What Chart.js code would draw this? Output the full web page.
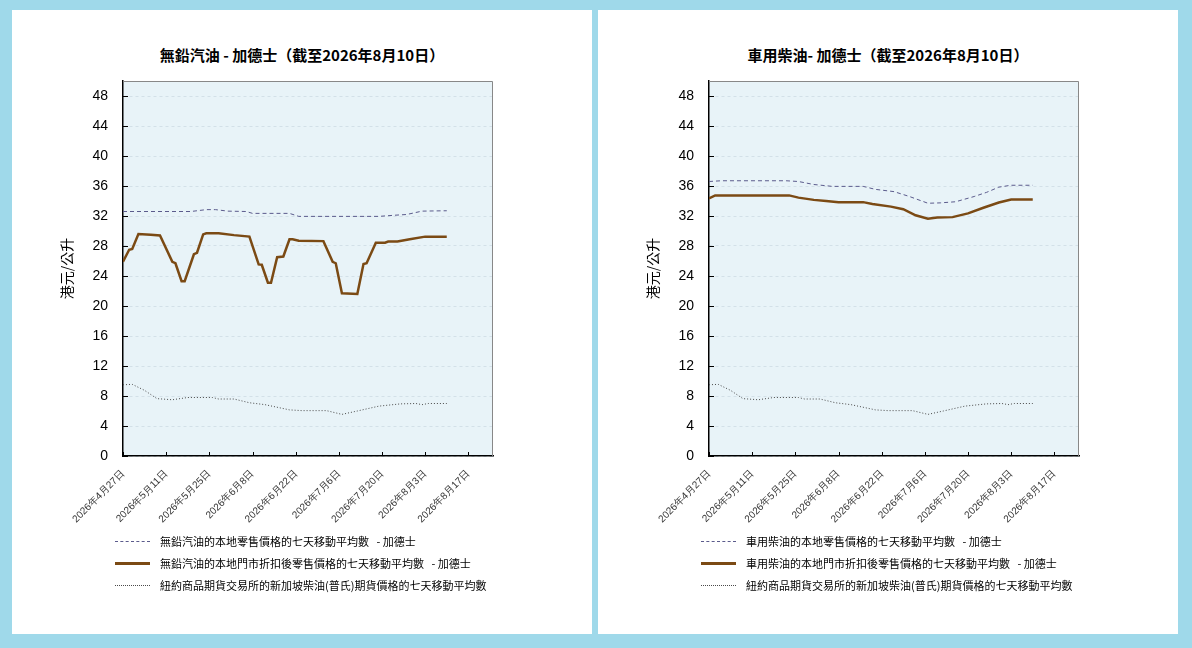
<!DOCTYPE html>
<html>
<head>
<meta charset="utf-8">
<script src="https://cdn.jsdelivr.net/npm/chart.js@4.4.1/dist/chart.umd.min.js"></script>
<style>
  html, body { margin: 0; padding: 0; }
  body { width: 1192px; height: 648px; background: #9fd9ea; position: relative; overflow: hidden;
         font-family: "Noto Sans CJK TC", "Noto Sans", sans-serif; }
  .panel { position: absolute; top: 10px; width: 580px; height: 624px; background: #fff; }
  .panel canvas { position: absolute; left: 0; top: 0; }
  .ttl { position: absolute; left: 0; width: 580px; top: 34px; line-height: 22px; text-align: center;
         font-size: 15px; font-weight: bold; color: #000; }
  .legend { position: absolute; left: 103px; top: 520px; font-size: 11px; color: #000; }
  .legend .row { height: 22px; display: flex; align-items: center; }
  .legend .sample { width: 35px; margin-right: 10px; }
</style>
</head>
<body>
<div class="panel" style="left:12px">
  <div class="ttl">無鉛汽油 - 加德士（截至2026年8月10日）</div>
  <canvas id="chartPetrol" width="580" height="530"></canvas>
  <div class="legend" id="legendPetrol"></div>
</div>
<div class="panel" style="left:598px">
  <div class="ttl">車用柴油- 加德士（截至2026年8月10日）</div>
  <canvas id="chartDiesel" width="580" height="530"></canvas>
  <div class="legend" id="legendDiesel"></div>
</div>
<script>
// x values are days counted from 2026-04-27
const xTickLabels = ['2026年4月27日', '2026年5月11日', '2026年5月25日', '2026年6月8日', '2026年6月22日',
  '2026年7月6日', '2026年7月20日', '2026年8月3日', '2026年8月17日'];

// unleaded petrol - retail price, 7 day moving average
const petrolRetailDays = [0, 22, 27, 30, 34, 40, 42, 54, 57, 83, 88, 92, 97, 105];
const petrolRetailVals = [32.6, 32.6, 32.85, 32.85, 32.65, 32.6, 32.35, 32.35, 31.95, 31.95, 32.1, 32.2, 32.65, 32.7];

// unleaded petrol - discounted retail price, 7 day moving average
const petrolDiscountDays = [0, 2, 3, 5, 9, 12, 16, 17, 19, 20, 23, 24, 26, 27, 31, 36, 41, 44, 45, 47, 48, 50, 52, 54,
  55, 57, 65, 68, 69, 71, 76, 78, 79, 82, 85, 86, 89, 93, 98, 105];
const petrolDiscountVals = [25.9, 27.5, 27.6, 29.6, 29.5, 29.4, 25.9, 25.7, 23.3, 23.3, 26.9, 27.1, 29.55, 29.7, 29.7,
  29.45, 29.25, 25.55, 25.5, 23.1, 23.1, 26.5, 26.6, 28.9, 28.9, 28.7, 28.65, 25.9, 25.7, 21.7, 21.6, 25.6, 25.7,
  28.45, 28.45, 28.6, 28.6, 28.9, 29.25, 29.25];

// diesel - retail price, 7 day moving average
const dieselRetailDays = [0, 4, 25, 29, 34, 40, 50, 54, 60, 65, 71, 75, 80, 86, 90, 94, 98, 105];
const dieselRetailVals = [36.6, 36.7, 36.7, 36.6, 36.2, 35.95, 35.95, 35.55, 35.25, 34.6, 33.7, 33.75, 33.9, 34.6,
  35.15, 35.85, 36.1, 36.1];

// diesel - discounted retail price, 7 day moving average
const dieselDiscountDays = [0, 2, 26, 29, 34, 38, 42, 50, 53, 59, 63, 67, 71, 74, 79, 84, 89, 94, 98, 105];
const dieselDiscountVals = [34.35, 34.75, 34.75, 34.45, 34.15, 34.0, 33.85, 33.85, 33.6, 33.25, 32.9, 32.1, 31.65,
  31.8, 31.85, 32.35, 33.1, 33.8, 34.2, 34.2];

// NYMEX Singapore gasoil (Platts) futures, 7 day moving average (same in both charts)
const futuresDays = [0, 3, 7, 11, 16, 21, 29, 31, 36, 41, 46, 54, 58, 66, 71, 76, 83, 90, 95, 97, 99, 105];
const futuresVals = [9.5, 9.55, 8.75, 7.65, 7.5, 7.8, 7.8, 7.6, 7.6, 7.1, 6.85, 6.15, 6.05, 6.05, 5.55, 6.0, 6.65,
  6.95, 7.0, 6.85, 7.0, 7.0];

const futuresLabel = '紐約商品期貨交易所的新加坡柴油(普氏)期貨價格的七天移動平均數';

function toPoints(days, vals) {
  return days.map((d, i) => ({ x: d, y: vals[i] }));
}

// plot background, grey top/right frame and inward tick marks
const frame = {
  id: 'frame',
  beforeDraw(chart) {
    const a = chart.chartArea, ctx = chart.ctx;
    ctx.save();
    ctx.fillStyle = '#e8f3f8';
    ctx.fillRect(a.left, a.top, a.right - a.left, a.bottom - a.top);
    ctx.restore();
  },
  afterDraw(chart) {
    const a = chart.chartArea, ctx = chart.ctx;
    ctx.save();
    ctx.strokeStyle = '#888';
    ctx.lineWidth = 1;
    ctx.beginPath();
    ctx.moveTo(a.left, a.top + 0.5);
    ctx.lineTo(a.right - 0.5, a.top + 0.5);
    ctx.lineTo(a.right - 0.5, a.bottom);
    ctx.stroke();
    ctx.strokeStyle = '#000';
    ctx.beginPath();
    chart.scales.x.ticks.forEach(t => {
      const px = Math.round(chart.scales.x.getPixelForValue(t.value)) + 0.5;
      ctx.moveTo(px, a.bottom);
      ctx.lineTo(px, a.bottom - 4);
    });
    chart.scales.y.ticks.forEach(t => {
      const py = Math.round(chart.scales.y.getPixelForValue(t.value)) + 0.5;
      ctx.moveTo(a.left, py);
      ctx.lineTo(a.left + 5, py);
    });
    ctx.stroke();
    ctx.restore();
  }
};

function makeChart(canvasId, legendId, retailLabel, retailPts, discountLabel, discountPts) {
  const ctx = document.getElementById(canvasId).getContext('2d');
  const chart = new Chart(ctx, {
    type: 'line',
    data: {
      datasets: [{
        label: retailLabel,
        data: retailPts,
        borderColor: '#5b5b8c',
        borderWidth: 1,
        borderDash: [4, 3],
        pointRadius: 0
      }, {
        label: discountLabel,
        data: discountPts,
        borderColor: '#7b4a14',
        borderWidth: 2.5,
        pointRadius: 0
      }, {
        label: futuresLabel,
        data: toPoints(futuresDays, futuresVals),
        borderColor: '#4a4a4a',
        borderWidth: 1,
        borderDash: [1, 2],
        pointRadius: 0
      }]
    },
    options: {
      responsive: false,
      animation: false,
      layout: { padding: { top: 71, right: 99, left: 0, bottom: 0 } },
      plugins: {
        legend: { display: false },
        tooltip: { enabled: false }
      },
      scales: {
        x: {
          type: 'linear',
          min: 0,
          max: 120,
          afterFit(scale) { scale.height = 84; },
          grid: { display: false },
          border: { color: '#000', width: 1.5 },
          ticks: {
            stepSize: 14,
            includeBounds: false,
            autoSkip: false,
            minRotation: 45,
            maxRotation: 45,
            padding: 4,
            color: '#333',
            font: { family: 'Liberation Sans', size: 10 },
            callback: value => xTickLabels[value / 14]
          }
        },
        y: {
          min: 0,
          max: 50,
          afterFit(scale) { scale.width = 111; },
          grid: { color: '#d3e0e8', drawTicks: false },
          border: { color: '#000', width: 1.5, dash: [3, 3] },
          ticks: {
            stepSize: 4,
            includeBounds: false,
            padding: 15,
            color: '#000',
            font: { family: 'Liberation Sans', size: 14 }
          },
          title: {
            display: true,
            text: '港元/公升',
            color: '#000',
            padding: 46,
            font: { family: 'Noto Sans CJK TC', size: 14 }
          }
        }
      }
    },
    plugins: [frame]
  });

  // legend laid out as three stacked rows under the chart
  const legend = document.getElementById(legendId);
  const sampleStyles = ['1px dashed #5b5b8c', '3px solid #7b4a14', '1px dotted #4a4a4a'];
  chart.data.datasets.forEach((ds, i) => {
    const row = document.createElement('div');
    row.className = 'row';
    const sample = document.createElement('div');
    sample.className = 'sample';
    sample.style.borderTop = sampleStyles[i];
    const text = document.createElement('span');
    text.textContent = ds.label;
    row.appendChild(sample);
    row.appendChild(text);
    legend.appendChild(row);
  });
  return chart;
}

makeChart('chartPetrol', 'legendPetrol',
  '無鉛汽油的本地零售價格的七天移動平均數\u00a0\u00a0 - 加德士', toPoints(petrolRetailDays, petrolRetailVals),
  '無鉛汽油的本地門市折扣後零售價格的七天移動平均數\u00a0\u00a0 - 加德士', toPoints(petrolDiscountDays, petrolDiscountVals));

makeChart('chartDiesel', 'legendDiesel',
  '車用柴油的本地零售價格的七天移動平均數\u00a0\u00a0 - 加德士', toPoints(dieselRetailDays, dieselRetailVals),
  '車用柴油的本地門市折扣後零售價格的七天移動平均數\u00a0\u00a0 - 加德士', toPoints(dieselDiscountDays, dieselDiscountVals));
</script>
</body>
</html>
